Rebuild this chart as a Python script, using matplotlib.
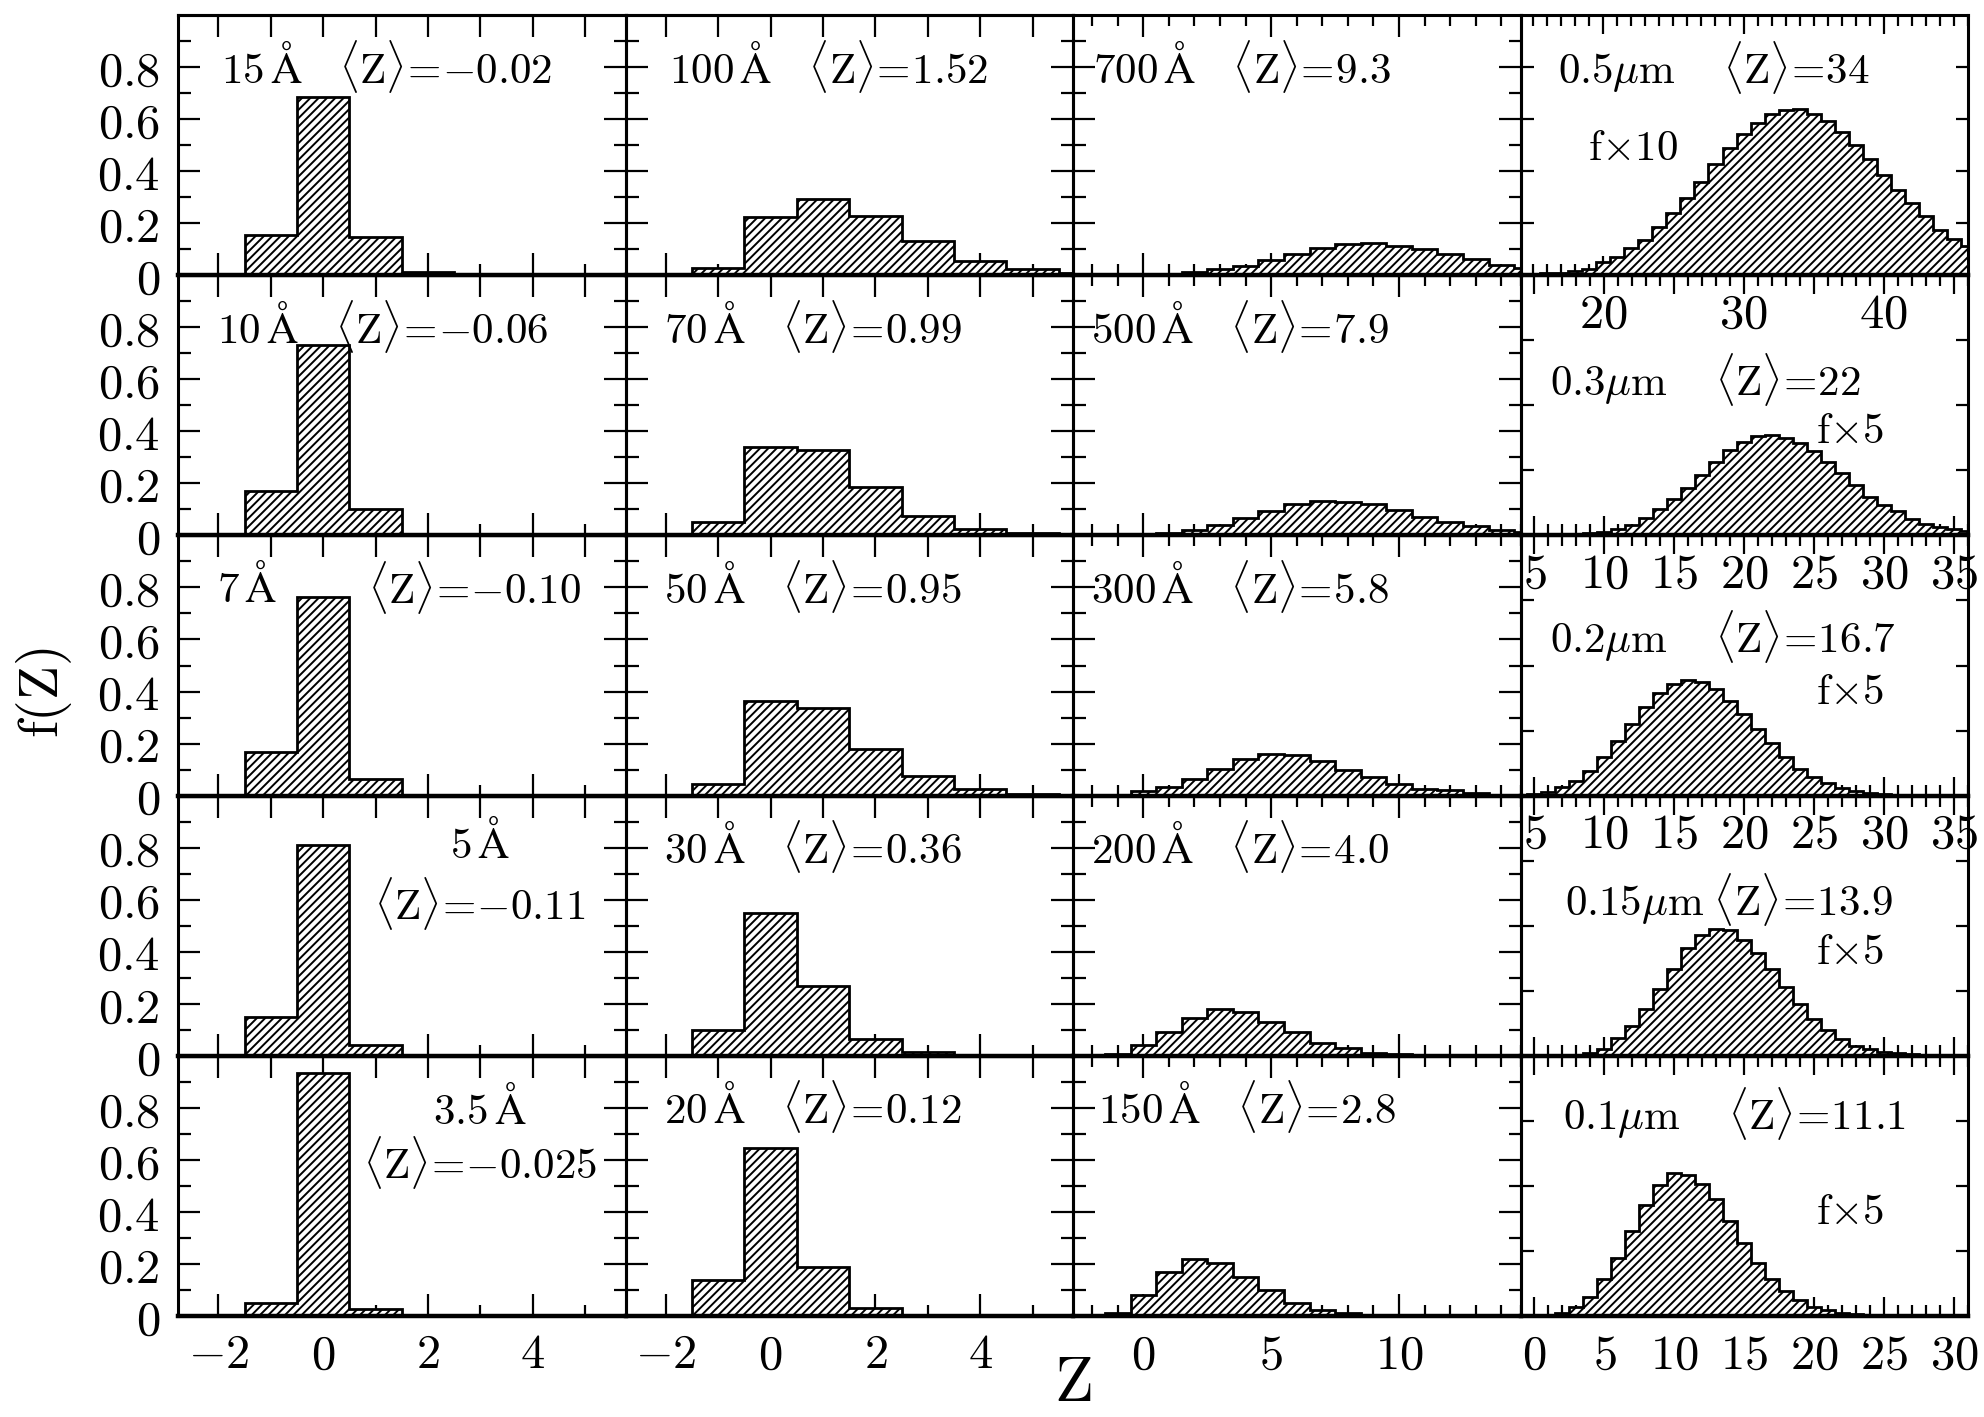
import numpy as np
import matplotlib
matplotlib.use("Agg")
import matplotlib.pyplot as plt
from matplotlib.ticker import FixedLocator, FixedFormatter, NullLocator

plt.rcParams['mathtext.fontset'] = 'cm'
plt.rcParams['font.family'] = 'serif'
plt.rcParams['hatch.linewidth'] = 1.4

# ---------------- data: f(Z) in unit-width bins centred on integer Z ----------------
# column 1 (smallest grains); first bin is Z = -1
z0_15A, f_15A = -1, [0.155, 0.684, 0.145, 0.012, 0.002]
z0_10A, f_10A = -1, [0.170, 0.730, 0.100, 0.005]
z0_7A, f_7A = -1, [0.167, 0.765, 0.065, 0.003]
z0_5A, f_5A = -1, [0.150, 0.810, 0.040]
z0_3p5A, f_3p5A = -1, [0.049, 0.932, 0.026]
# column 2
z0_100A, f_100A = -1, [0.026, 0.222, 0.293, 0.229, 0.131, 0.055, 0.025, 0.010]
z0_70A, f_70A = -1, [0.050, 0.340, 0.330, 0.185, 0.075, 0.025, 0.008]
z0_50A, f_50A = -1, [0.045, 0.363, 0.338, 0.180, 0.074, 0.025, 0.008]
z0_30A, f_30A = -1, [0.100, 0.550, 0.270, 0.065, 0.015]
z0_20A, f_20A = -1, [0.137, 0.645, 0.190, 0.030, 0.005]
# column 3
z0_700A, f_700A = 1, [0.004, 0.012, 0.022, 0.035, 0.058, 0.083, 0.103, 0.119, 0.124,
                      0.114, 0.100, 0.081, 0.062, 0.041, 0.026]
z0_500A, f_500A = 0, [0.003, 0.009, 0.019, 0.041, 0.067, 0.095, 0.119, 0.132, 0.129,
                      0.119, 0.096, 0.072, 0.053, 0.036, 0.021, 0.012]
z0_300A, f_300A = 0, [0.017, 0.032, 0.064, 0.104, 0.141, 0.158, 0.155, 0.132, 0.100,
                      0.072, 0.046, 0.027, 0.021, 0.010, 0.004]
z0_200A, f_200A = -1, [0.005, 0.040, 0.090, 0.145, 0.180, 0.170, 0.130, 0.090, 0.050,
                       0.030, 0.012, 0.005]
z0_150A, f_150A = -1, [0.010, 0.080, 0.170, 0.218, 0.205, 0.150, 0.099, 0.049, 0.024,
                       0.012, 0.005]
# column 4 (plotted values, i.e. f x 10 for 0.5 um and f x 5 for the others)
z0_0p5um, f_0p5um = 15, [0.005, 0.008, 0.010, 0.015, 0.025, 0.049, 0.070, 0.103, 0.137,
                         0.186, 0.240, 0.297, 0.359, 0.427, 0.487, 0.542, 0.586, 0.619,
                         0.635, 0.638, 0.618, 0.594, 0.551, 0.500, 0.445, 0.385, 0.327,
                         0.278, 0.227, 0.173, 0.141, 0.112]
z0_0p3um, f_0p3um = 7, [0.003, 0.005, 0.008, 0.013, 0.026, 0.041, 0.067, 0.100, 0.141,
                        0.183, 0.233, 0.282, 0.327, 0.359, 0.381, 0.385, 0.376, 0.356,
                        0.323, 0.282, 0.240, 0.192, 0.147, 0.118, 0.092, 0.064, 0.045,
                        0.032, 0.023, 0.015]
z0_0p2um, f_0p2um = 5, [0.006, 0.015, 0.032, 0.058, 0.096, 0.147, 0.209, 0.276, 0.340,
                        0.394, 0.430, 0.445, 0.438, 0.408, 0.363, 0.312, 0.256, 0.203,
                        0.147, 0.103, 0.071, 0.049, 0.029, 0.018, 0.010, 0.006, 0.003,
                        0.002, 0.001]
z0_0p15um, f_0p15um = 3, [0.003, 0.010, 0.026, 0.067, 0.115, 0.180, 0.256, 0.333, 0.414,
                          0.464, 0.487, 0.483, 0.446, 0.394, 0.333, 0.263, 0.199, 0.141,
                          0.100, 0.064, 0.038, 0.026, 0.015, 0.010, 0.005, 0.003]
z0_0p1um, f_0p1um = 0, [0.003, 0.005, 0.010, 0.035, 0.073, 0.141, 0.224, 0.327, 0.427,
                        0.504, 0.548, 0.540, 0.509, 0.449, 0.365, 0.282, 0.205, 0.141,
                        0.096, 0.060, 0.035, 0.022, 0.013, 0.008, 0.005, 0.003]

grid_data = [
    [(z0_15A, f_15A), (z0_100A, f_100A), (z0_700A, f_700A), (z0_0p5um, f_0p5um)],
    [(z0_10A, f_10A), (z0_70A, f_70A), (z0_500A, f_500A), (z0_0p3um, f_0p3um)],
    [(z0_7A, f_7A), (z0_50A, f_50A), (z0_300A, f_300A), (z0_0p2um, f_0p2um)],
    [(z0_5A, f_5A), (z0_30A, f_30A), (z0_200A, f_200A), (z0_0p15um, f_0p15um)],
    [(z0_3p5A, f_3p5A), (z0_20A, f_20A), (z0_150A, f_150A), (z0_0p1um, f_0p1um)],
]

Z = r'\langle\mathrm{Z}\rangle\!=\!'
# panel annotations: (text, x, y, ha) in axes fraction
panel_text = [
    [[(r'$15\,\mathrm{Å}\quad' + Z + r'{-}0.02$', 0.097, 0.80, 'left')],
     [(r'$100\,\mathrm{Å}\quad' + Z + r'1.52$', 0.097, 0.80, 'left')],
     [(r'$700\,\mathrm{Å}\quad' + Z + r'9.3$', 0.045, 0.80, 'left')],
     [(r'$0.5\mu\mathrm{m}\quad\;' + Z + r'34$', 0.084, 0.80, 'left'),
      (r'$\mathrm{f}{\times}10$', 0.15, 0.49, 'left')]],
    [[(r'$10\,\mathrm{Å}\quad' + Z + r'{-}0.06$', 0.088, 0.80, 'left')],
     [(r'$70\,\mathrm{Å}\quad' + Z + r'0.99$', 0.087, 0.80, 'left')],
     [(r'$500\,\mathrm{Å}\quad' + Z + r'7.9$', 0.040, 0.80, 'left')],
     [(r'$0.3\mu\mathrm{m}\quad\;' + Z + r'22$', 0.066, 0.60, 'left'),
      (r'$\mathrm{f}{\times}5$', 0.66, 0.40, 'left')]],
    [[(r'$7\,\mathrm{Å}$', 0.088, 0.80, 'left'), (r'$' + Z + r'{-}0.10$', 0.425, 0.80, 'left')],
     [(r'$50\,\mathrm{Å}\quad' + Z + r'0.95$', 0.087, 0.80, 'left')],
     [(r'$300\,\mathrm{Å}\quad' + Z + r'5.8$', 0.040, 0.80, 'left')],
     [(r'$0.2\mu\mathrm{m}\quad\;' + Z + r'16.7$', 0.066, 0.61, 'left'),
      (r'$\mathrm{f}{\times}5$', 0.66, 0.40, 'left')]],
    [[(r'$5\,\mathrm{Å}$', 0.675, 0.815, 'center'), (r'$' + Z + r'{-}0.11$', 0.675, 0.585, 'center')],
     [(r'$30\,\mathrm{Å}\quad' + Z + r'0.36$', 0.087, 0.80, 'left')],
     [(r'$200\,\mathrm{Å}\quad' + Z + r'4.0$', 0.040, 0.80, 'left')],
     [(r'$0.15\mu\mathrm{m}\;' + Z + r'13.9$', 0.10, 0.60, 'left'),
      (r'$\mathrm{f}{\times}5$', 0.66, 0.40, 'left')]],
    [[(r'$3.5\,\mathrm{Å}$', 0.675, 0.795, 'center'), (r'$' + Z + r'{-}0.025$', 0.675, 0.59, 'center')],
     [(r'$20\,\mathrm{Å}\quad' + Z + r'0.12$', 0.087, 0.80, 'left')],
     [(r'$150\,\mathrm{Å}\quad' + Z + r'2.8$', 0.055, 0.80, 'left')],
     [(r'$0.1\mu\mathrm{m}\quad\;' + Z + r'11.1$', 0.095, 0.78, 'left'),
      (r'$\mathrm{f}{\times}5$', 0.66, 0.40, 'left')]],
]

# axis ranges and ticks
xlim_small = (-2.77, 5.77)
xlim_mid = (-2.75, 14.75)
xlim_big = [(14.1, 46.0), (4.0, 36.0), (4.0, 36.0), (-1.0, 31.0), (-1.0, 31.0)]
xmaj_big = [[20, 30, 40], [5, 10, 15, 20, 25, 30, 35], [5, 10, 15, 20, 25, 30, 35],
            [0, 5, 10, 15, 20, 25, 30], [0, 5, 10, 15, 20, 25, 30]]
ytick_vals = [0, 0.2, 0.4, 0.6, 0.8]
ytick_labels = ['$0$', '$0.2$', '$0.4$', '$0.6$', '$0.8$']

TXT = 31
TICK = 35
LW = 2.2

fig = plt.figure(figsize=(19.84, 14.17), dpi=100)
L, R, T, B = 178 / 1984, 1968 / 1984, 1 - 15 / 1417, 1 - 1316 / 1417
W = (R - L) / 4
H = (T - B) / 5


def mathlabels(vals):
    return ['$%g$' % v for v in vals]


for r in range(5):
    for c in range(4):
        ax = fig.add_axes([L + c * W, T - (r + 1) * H, W, H])
        ax.patch.set_visible(False)
        z0, vals = grid_data[r][c]
        zc = z0 + np.arange(len(vals))
        edges = np.append(zc - 0.5, zc[-1] + 0.5)
        ax.stairs(vals, edges, baseline=0, fill=True, facecolor='white',
                  edgecolor='black', hatch='////', linewidth=2.0, zorder=2)
        ax.set_ylim(0, 1.0)
        for s in ax.spines.values():
            s.set_linewidth(LW)
            s.set_zorder(3)
        ax.spines['bottom'].set_linewidth(3.2)

        # y ticks
        if c < 3:
            ax.yaxis.set_major_locator(FixedLocator(ytick_vals))
            ax.yaxis.set_minor_locator(FixedLocator([0.1, 0.3, 0.5, 0.7, 0.9]))
            ax.tick_params(axis='y', which='major', direction='in', length=16, width=1.6,
                           left=True, right=True)
            ax.tick_params(axis='y', which='minor', direction='in', length=9, width=1.6,
                           left=True, right=True)
        else:
            ylocs = [0.2, 0.4, 0.6, 0.8] if r == 0 else [0.25, 0.5, 0.75]
            ax.yaxis.set_major_locator(FixedLocator(ylocs))
            ax.yaxis.set_minor_locator(NullLocator())
            ax.tick_params(axis='y', which='major', direction='in', length=9, width=1.6,
                           left=True, right=True)
        if c == 0:
            ax.yaxis.set_major_formatter(FixedFormatter(ytick_labels))
            ax.tick_params(axis='y', labelleft=True, labelsize=TICK, pad=13)
        else:
            ax.tick_params(axis='y', labelleft=False)

        # x ticks
        show_x = (r == 4) or (c == 3 and r < 3)
        if c < 2:
            ax.set_xlim(*xlim_small)
            majors = [-2, 0, 2, 4]
            ax.xaxis.set_major_locator(FixedLocator(majors))
            ax.xaxis.set_minor_locator(FixedLocator([-1, 1, 3, 5]))
            ax.tick_params(axis='x', which='major', direction='in', length=16, width=1.6,
                           bottom=True, top=False)
            ax.tick_params(axis='x', which='minor', direction='in', length=8, width=1.6,
                           bottom=True, top=False)
            sec = ax.secondary_xaxis('top')
            sec.set_xticks(list(range(-2, 6)))
            sec.xaxis.set_minor_locator(NullLocator())
            sec.tick_params(axis='x', direction='in', length=16, width=1.6, labeltop=False)
            sec.spines['top'].set_linewidth(LW)
        elif c == 2:
            ax.set_xlim(*xlim_mid)
            majors = [0, 5, 10]
            ax.xaxis.set_major_locator(FixedLocator(majors))
            ax.xaxis.set_minor_locator(FixedLocator([v for v in range(-2, 15) if v % 5]))
            ax.tick_params(axis='x', which='major', direction='in', length=16, width=1.6,
                           bottom=True, top=True)
            ax.tick_params(axis='x', which='minor', direction='in', length=8, width=1.6,
                           bottom=True, top=True)
        else:
            lo, hi = xlim_big[r]
            ax.set_xlim(lo, hi)
            majors = xmaj_big[r]
            step = majors[1] - majors[0]
            ax.xaxis.set_major_locator(FixedLocator(majors))
            ax.xaxis.set_minor_locator(FixedLocator(
                [v for v in range(int(np.ceil(lo)), int(hi) + 1) if v % step]))
            ax.tick_params(axis='x', which='major', direction='in', length=14, width=1.6,
                           bottom=True, top=True)
            ax.tick_params(axis='x', which='minor', direction='in', length=8, width=1.6,
                           bottom=True, top=True)
        if show_x:
            ax.xaxis.set_major_formatter(FixedFormatter(mathlabels(majors)))
            ax.tick_params(axis='x', labelbottom=True, labelsize=TICK, pad=11)
        else:
            ax.tick_params(axis='x', labelbottom=False)

        for (txt, x, y, ha) in panel_text[r][c]:
            ax.text(x, y, txt, transform=ax.transAxes, ha=ha, va='center',
                    fontsize=TXT, zorder=5)

fig.text(44 / 1984, 0.511, r'$\mathrm{f(Z)}$', rotation=90, ha='center', va='center',
         fontsize=40)
fig.text((L + R) / 2, 0.002, r'$\mathrm{Z}$', ha='center', va='bottom', fontsize=46)

fig.savefig('out.png', dpi=100, facecolor='white')
